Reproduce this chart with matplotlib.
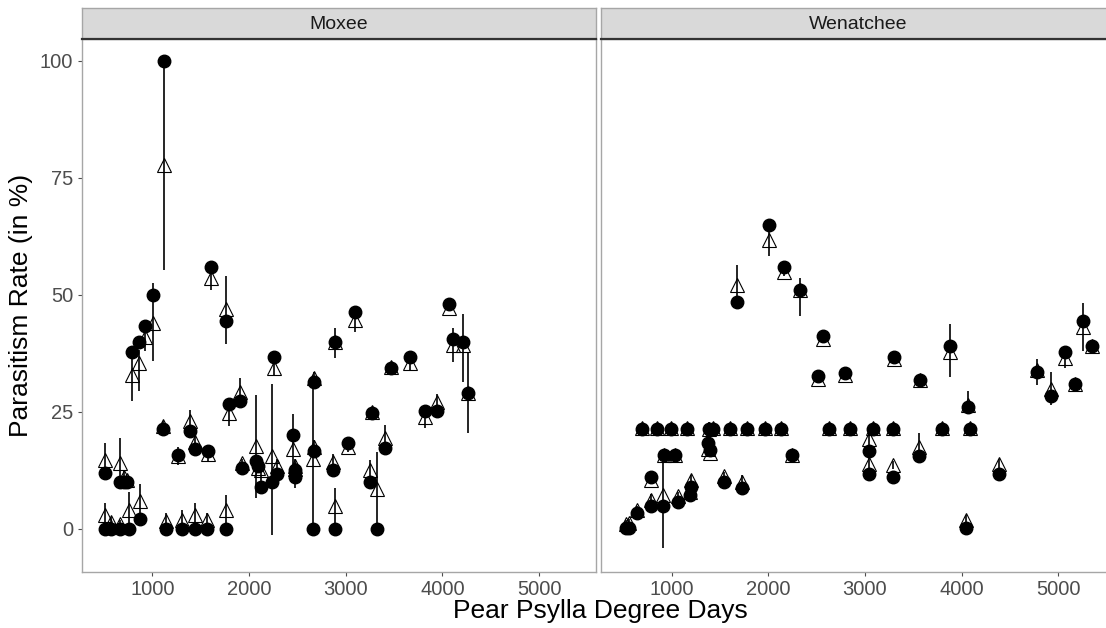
import matplotlib
matplotlib.use("Agg")
import matplotlib.pyplot as plt

plt.rcParams["font.family"] = ["Liberation Sans", "DejaVu Sans"]

sites = ["Moxee", "Wenatchee"]

# Moxee: degree days, observed rate, predicted rate, interval low/high
mox_dd = [515, 510, 574, 670, 663, 703, 740, 763, 876, 790, 866, 928, 1007, 1117,
          1106, 1141, 1265, 1309, 1392, 1437, 1443, 1567, 1580, 1766, 1760, 1608,
          1797, 1907, 1924, 2069, 2095, 2120, 2240, 2258, 2292, 2457, 2474, 2480,
          2663, 2670, 2675, 2869, 2894, 2887, 3093, 3021, 3247, 3275, 3323, 3402,
          3471, 3663, 3825, 3948, 4065, 4106, 4216, 4265]
mox_obs = [12.0, 0, 0, 0, 10.1, 10.1, 10.1, 0, 2.1, 37.9, 39.9, 43.4, 50.0, 100.0,
           21.4, 0, 15.9, 0, 20.9, 0, 17.0, 0, 16.7, 0, 44.4, 56.0,
           26.6, 27.4, 13.1, 14.5, 13.4, 8.9, 10.1, 36.8, 11.7, 20.0, 12.6, 11.1,
           0, 31.3, 16.7, 12.7, 0, 40.0, 46.4, 18.3, 10.1, 24.7, 0, 17.4,
           34.3, 36.7, 25.1, 25.1, 48.1, 40.5, 40.0, 29.1]
mox_pred = [14.7, 3.0, 1.5, 1.0, 14.0, 11.0, 10.5, 4.0, 6.0, 32.9, 35.4, 41.0, 44.0, 77.8,
            22.0, 1.6, 15.5, 2.0, 23.0, 3.0, 18.5, 2.0, 16.0, 4.0, 47.0, 53.6,
            24.7, 29.3, 14.0, 17.8, 13.0, 12.7, 15.5, 34.3, 13.5, 17.0, 13.5, 12.8,
            15.0, 32.3, 17.5, 14.4, 4.8, 40.0, 44.6, 17.6, 12.6, 25.0, 8.5, 19.5,
            34.6, 35.5, 24.0, 27.2, 47.2, 39.3, 39.3, 29.1]
mox_lo = [11.5, 0.5, 0.5, 0.3, 9.0, 9.5, 9.8, 0.5, 3.0, 27.3, 29.4, 38.0, 35.8, 55.3,
          21.0, 0.3, 13.7, 0.3, 20.5, 0.5, 16.5, 0.3, 14.5, 0.5, 39.6, 51.0,
          22.0, 26.5, 12.5, 6.6, 12.0, 10.0, -1.2, 33.0, 12.0, 13.5, 12.0, 8.8,
          0.0, 31.0, 16.0, 13.0, 0.5, 36.6, 42.0, 16.5, 10.5, 24.0, 0.0, 17.0,
          33.5, 34.0, 21.5, 25.0, 46.5, 35.7, 31.4, 20.5]
mox_hi = [18.4, 5.5, 2.5, 2.0, 19.4, 12.5, 11.2, 7.8, 9.6, 36.6, 38.3, 44.0, 52.5, 100.0,
          23.0, 3.5, 17.5, 4.0, 25.5, 5.5, 20.5, 3.5, 17.5, 7.2, 54.0, 55.0,
          26.8, 32.3, 15.0, 28.6, 14.0, 15.0, 31.0, 36.5, 15.0, 24.6, 15.0, 14.0,
          31.0, 33.5, 19.0, 16.0, 8.7, 43.0, 47.7, 19.0, 14.8, 26.0, 16.5, 22.3,
          35.5, 37.0, 26.5, 28.9, 48.5, 43.0, 46.0, 37.8]

# Wenatchee
wen_dd = [526, 560, 646, 784, 790, 910, 920, 1031, 1065, 1189, 1200,
          698, 853, 990, 1155, 1385, 1430, 1608, 1780, 1962, 2134, 2629, 2845,
          3086, 3285, 3797, 4082,
          1374, 1402, 1540, 1729, 2244, 1677, 2010, 2158, 2330, 2570, 2512, 2794,
          3041, 3041, 3292, 3302, 3557, 3567, 3876, 4048, 4065, 4385,
          4780, 4925, 5072, 5172, 5254, 5343]
wen_obs = [0.1, 0.1, 3.5, 4.8, 11.0, 4.9, 15.8, 15.8, 5.8, 7.3, 9.0,
           21.3, 21.3, 21.3, 21.3, 21.3, 21.3, 21.3, 21.3, 21.3, 21.3, 21.3, 21.3,
           21.3, 21.3, 21.3, 21.3,
           18.4, 16.8, 10.1, 8.7, 15.8, 48.6, 65.0, 55.9, 51.0, 41.2, 32.6, 33.4,
           16.7, 11.7, 11.2, 36.8, 15.5, 31.8, 39.1, 0.1, 26.1, 11.7,
           33.6, 28.4, 37.9, 31.0, 44.5, 39.1]
wen_pred = [1.0, 1.2, 4.0, 6.2, 10.5, 7.3, 15.8, 15.8, 7.0, 8.0, 10.4,
            21.6, 21.6, 21.6, 21.6, 21.3, 21.6, 21.6, 21.6, 21.6, 21.6, 21.6, 21.6,
            21.6, 21.6, 21.6, 21.6,
            17.0, 16.2, 11.4, 10.0, 15.8, 52.1, 61.7, 55.0, 51.0, 40.5, 32.0, 33.0,
            19.2, 13.9, 13.6, 36.3, 17.6, 31.8, 37.8, 1.9, 26.4, 13.9,
            34.0, 30.0, 36.5, 31.0, 43.2, 39.1]
wen_lo = [0.2, 0.2, 3.0, 5.0, 10.0, -4.1, 15.0, 15.0, 6.0, 7.0, 9.5,
          21.0, 21.0, 21.0, 21.0, 16.0, 21.0, 21.0, 21.0, 21.0, 21.0, 21.0, 21.0,
          21.0, 21.0, 21.0, 21.0,
          16.5, 15.5, 10.5, 9.0, 15.0, 48.5, 58.3, 54.0, 45.6, 39.8, 31.5, 32.5,
          17.5, 12.0, 12.8, 35.5, 16.0, 31.0, 32.5, 1.0, 24.5, 12.5,
          30.7, 26.4, 34.5, 30.5, 38.1, 37.5]
wen_hi = [2.0, 2.2, 5.0, 7.5, 11.5, 15.5, 16.5, 16.5, 8.0, 9.0, 11.5,
          22.2, 22.2, 22.2, 22.2, 22.8, 22.2, 22.2, 22.2, 22.2, 22.2, 22.2, 22.2,
          22.2, 22.2, 22.2, 22.2,
          18.0, 17.0, 12.2, 11.5, 16.5, 56.4, 64.0, 56.5, 53.6, 41.3, 32.6, 33.8,
          21.0, 15.5, 14.5, 37.0, 20.4, 32.6, 43.9, 3.0, 29.5, 15.0,
          36.4, 33.5, 38.5, 32.0, 48.2, 40.0]

site_data = {
    "Moxee": (mox_dd, mox_obs, mox_pred, mox_lo, mox_hi),
    "Wenatchee": (wen_dd, wen_obs, wen_pred, wen_lo, wen_hi),
}

x_ticks = [1000, 2000, 3000, 4000, 5000]
y_ticks = [0, 25, 50, 75, 100]

W, H = 1106, 628
fig = plt.figure(figsize=(W / 100, H / 100), dpi=100)

panel_left = [81.7, 601]
panel_w = 514
panel_top, panel_bot = 39, 572
strip_top = 8

for i, site in enumerate(sites):
    dd, obs, pred, lo, hi = site_data[site]
    ax = fig.add_axes([panel_left[i] / W, (H - panel_bot) / H,
                       panel_w / W, (panel_bot - panel_top) / H])
    ax.vlines(dd, lo, hi, color="black", lw=1.2, zorder=2)
    ax.plot(dd, pred, linestyle="none", marker="^", markersize=10.5,
            markerfacecolor="none", markeredgecolor="black", markeredgewidth=0.8, zorder=3)
    ax.plot(dd, obs, linestyle="none", marker="o", markersize=9,
            markerfacecolor="black", markeredgecolor="black", zorder=4)
    ax.set_xlim(270, 5585)
    ax.set_ylim(-9.2, 104.7)
    ax.set_xticks(x_ticks)
    ax.set_yticks(y_ticks)
    for sp in ax.spines.values():
        sp.set_color("#A6A6A6")
        sp.set_linewidth(1.0)
    ax.tick_params(colors="#4D4D4D", labelsize=14.5, length=3, width=0.8,
                   labelcolor="#4D4D4D", pad=3)
    if i > 0:
        ax.tick_params(axis="y", left=False, labelleft=False)

    # facet strip
    sax = fig.add_axes([panel_left[i] / W, (H - panel_top) / H,
                        panel_w / W, (panel_top - strip_top) / H])
    sax.set_facecolor("#D9D9D9")
    sax.set_xticks([])
    sax.set_yticks([])
    for sp in sax.spines.values():
        sp.set_color("#A6A6A6")
        sp.set_linewidth(1.0)
    sax.spines["bottom"].set_color("#333333")
    sax.spines["bottom"].set_linewidth(1.6)
    sax.text(0.5, 0.48, site, ha="center", va="center", fontsize=14,
             color="#1A1A1A", transform=sax.transAxes)

fig.text(600 / W, 1 - 611 / H, "Pear Psylla Degree Days", ha="center", va="center",
         fontsize=19, color="black")
fig.text(21 / W, 1 - 305 / H, "Parasitism Rate (in %)", ha="center", va="center",
         rotation=90, fontsize=19, color="black")

fig.savefig("out.png", dpi=100)
